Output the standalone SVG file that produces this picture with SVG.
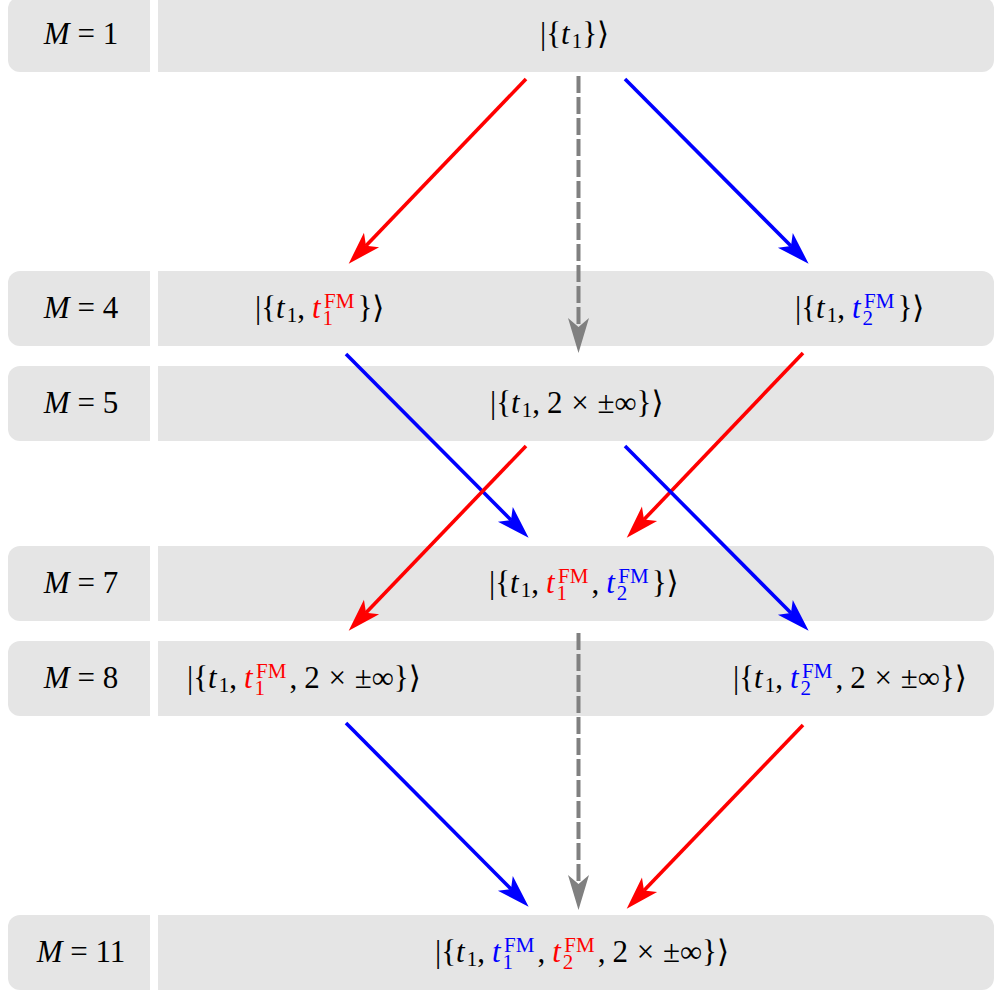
<svg xmlns="http://www.w3.org/2000/svg" width="994" height="993" viewBox="0 0 994 993">
<style>
.bx{fill:#e5e5e5}
.tx{font-family:"Liberation Serif","DejaVu Serif",serif;font-size:31px;fill:#000}
.it{font-style:italic}
.sc{font-size:21px}
.r{fill:#ff0000}
.b{fill:#0000ff}
.ar{fill:none;stroke-width:3.6}
.red{stroke:#ff0000}
.blue{stroke:#0000ff}
.gray{stroke:#808080;stroke-width:4;stroke-dasharray:17 4}
</style>
<defs>
<marker id="mr" markerUnits="userSpaceOnUse" orient="auto" refX="0" refY="0" markerWidth="60" markerHeight="60" overflow="visible"><path d="M25,0 L-8,-10.5 L0,0 L-8,10.5 Z" fill="#ff0000"/></marker>
<marker id="mb" markerUnits="userSpaceOnUse" orient="auto" refX="0" refY="0" markerWidth="60" markerHeight="60" overflow="visible"><path d="M25,0 L-8,-10.5 L0,0 L-8,10.5 Z" fill="#0000ff"/></marker>
<marker id="mg" markerUnits="userSpaceOnUse" orient="auto" refX="0" refY="0" markerWidth="60" markerHeight="60" overflow="visible"><path d="M26,0 L-9,-10.5 L0,0 L-9,10.5 Z" fill="#808080"/></marker>
</defs>

<g id="row-m1">
<path class="bx" d="M20,-3 H150 V72 H20 A12,12 0 0 1 8,60 V9 A12,12 0 0 1 20,-3 Z"/>
<path class="bx" d="M158,-3 H982 A12,12 0 0 1 994,9 V60 A12,12 0 0 1 982,72 H158 Z"/>
<text class="tx" x="81" y="44" text-anchor="middle"><tspan class="it">M</tspan> = 1</text>
</g>
<g id="state-t1">
<text class="tx" x="540" y="44">|{<tspan class="it">t</tspan><tspan class="sc" dx="2" dy="4">1</tspan><tspan dy="-4">}⟩</tspan></text>
</g>

<g id="row-m4">
<path class="bx" d="M20,271 H150 V346 H20 A12,12 0 0 1 8,334 V283 A12,12 0 0 1 20,271 Z"/>
<path class="bx" d="M158,271 H982 A12,12 0 0 1 994,283 V334 A12,12 0 0 1 982,346 H158 Z"/>
<text class="tx" x="81" y="318" text-anchor="middle"><tspan class="it">M</tspan> = 4</text>
</g>
<g id="state-t1-t1fm">
<text class="tx" x="255" y="318">|{<tspan class="it">t</tspan><tspan class="sc" dx="2" dy="4">1</tspan><tspan dy="-4">,</tspan><tspan class="it r" dx="7">t</tspan><tspan class="sc r" dx="2" dy="7">1</tspan><tspan class="sc r" dx="-9" dy="-17">FM</tspan><tspan dx="3" dy="10">}⟩</tspan></text>
</g>
<g id="state-t1-t2fm">
<text class="tx" x="795" y="318">|{<tspan class="it">t</tspan><tspan class="sc" dx="2" dy="4">1</tspan><tspan dy="-4">,</tspan><tspan class="it b" dx="7">t</tspan><tspan class="sc b" dx="2" dy="7">2</tspan><tspan class="sc b" dx="-9" dy="-17">FM</tspan><tspan dx="3" dy="10">}⟩</tspan></text>
</g>

<g id="row-m5">
<path class="bx" d="M20,366 H150 V441 H20 A12,12 0 0 1 8,429 V378 A12,12 0 0 1 20,366 Z"/>
<path class="bx" d="M158,366 H982 A12,12 0 0 1 994,378 V429 A12,12 0 0 1 982,441 H158 Z"/>
<text class="tx" x="81" y="413" text-anchor="middle"><tspan class="it">M</tspan> = 5</text>
</g>
<g id="state-t1-inf">
<text class="tx" x="490" y="413">|{<tspan class="it">t</tspan><tspan class="sc" dx="2" dy="4">1</tspan><tspan dy="-4">,</tspan><tspan dx="7">2</tspan><tspan dx="1"> × </tspan><tspan dx="1">±∞}⟩</tspan></text>
</g>

<g id="row-m7">
<path class="bx" d="M20,546 H150 V621 H20 A12,12 0 0 1 8,609 V558 A12,12 0 0 1 20,546 Z"/>
<path class="bx" d="M158,546 H982 A12,12 0 0 1 994,558 V609 A12,12 0 0 1 982,621 H158 Z"/>
<text class="tx" x="81" y="593" text-anchor="middle"><tspan class="it">M</tspan> = 7</text>
</g>
<g id="state-t1-t1fm-t2fm">
<text class="tx" x="489" y="593">|{<tspan class="it">t</tspan><tspan class="sc" dx="2" dy="4">1</tspan><tspan dy="-4">,</tspan><tspan class="it r" dx="7">t</tspan><tspan class="sc r" dx="2" dy="7">1</tspan><tspan class="sc r" dx="-9" dy="-17">FM</tspan><tspan dx="3" dy="10">,</tspan><tspan class="it b" dx="7">t</tspan><tspan class="sc b" dx="2" dy="7">2</tspan><tspan class="sc b" dx="-9" dy="-17">FM</tspan><tspan dx="3" dy="10">}⟩</tspan></text>
</g>

<g id="row-m8">
<path class="bx" d="M20,641 H150 V716 H20 A12,12 0 0 1 8,704 V653 A12,12 0 0 1 20,641 Z"/>
<path class="bx" d="M158,641 H982 A12,12 0 0 1 994,653 V704 A12,12 0 0 1 982,716 H158 Z"/>
<text class="tx" x="81" y="688" text-anchor="middle"><tspan class="it">M</tspan> = 8</text>
</g>
<g id="state-t1-t1fm-inf">
<text class="tx" x="187" y="688">|{<tspan class="it">t</tspan><tspan class="sc" dx="2" dy="4">1</tspan><tspan dy="-4">,</tspan><tspan class="it r" dx="7">t</tspan><tspan class="sc r" dx="2" dy="7">1</tspan><tspan class="sc r" dx="-9" dy="-17">FM</tspan><tspan dx="3" dy="10">,</tspan><tspan dx="7">2</tspan><tspan dx="1"> × </tspan><tspan dx="1">±∞}⟩</tspan></text>
</g>
<g id="state-t1-t2fm-inf">
<text class="tx" x="733" y="688">|{<tspan class="it">t</tspan><tspan class="sc" dx="2" dy="4">1</tspan><tspan dy="-4">,</tspan><tspan class="it b" dx="7">t</tspan><tspan class="sc b" dx="2" dy="7">2</tspan><tspan class="sc b" dx="-9" dy="-17">FM</tspan><tspan dx="3" dy="10">,</tspan><tspan dx="7">2</tspan><tspan dx="1"> × </tspan><tspan dx="1">±∞}⟩</tspan></text>
</g>

<g id="row-m11">
<path class="bx" d="M20,915 H150 V990 H20 A12,12 0 0 1 8,978 V927 A12,12 0 0 1 20,915 Z"/>
<path class="bx" d="M158,915 H982 A12,12 0 0 1 994,927 V978 A12,12 0 0 1 982,990 H158 Z"/>
<text class="tx" x="81" y="962" text-anchor="middle"><tspan class="it">M</tspan> = 11</text>
</g>
<g id="state-all">
<text class="tx" x="435" y="962">|{<tspan class="it">t</tspan><tspan class="sc" dx="2" dy="4">1</tspan><tspan dy="-4">,</tspan><tspan class="it b" dx="7">t</tspan><tspan class="sc b" dx="2" dy="7">1</tspan><tspan class="sc b" dx="-9" dy="-17">FM</tspan><tspan dx="3" dy="10">,</tspan><tspan class="it r" dx="7">t</tspan><tspan class="sc r" dx="2" dy="7">2</tspan><tspan class="sc r" dx="-9" dy="-17">FM</tspan><tspan dx="3" dy="10">,</tspan><tspan dx="7">2</tspan><tspan dx="1"> × </tspan><tspan dx="1">±∞}⟩</tspan></text>
</g>

<g id="connectors">
<line class="ar red" x1="526" y1="79" x2="366" y2="245.7" marker-end="url(#mr)"/>
<line class="ar gray" x1="578.5" y1="76" x2="578.5" y2="327" marker-end="url(#mg)"/>
<line class="ar blue" x1="625" y1="79" x2="791" y2="246" marker-end="url(#mb)"/>
<line class="ar blue" x1="346" y1="354" x2="511" y2="520" marker-end="url(#mb)"/>
<line class="ar red" x1="803" y1="353" x2="644" y2="519.6" marker-end="url(#mr)"/>
<line class="ar red" x1="526" y1="446" x2="366" y2="612.7" marker-end="url(#mr)"/>
<line class="ar blue" x1="625" y1="446" x2="791" y2="613" marker-end="url(#mb)"/>
<line class="ar gray" x1="578.5" y1="633" x2="578.5" y2="884" marker-end="url(#mg)"/>
<line class="ar blue" x1="346" y1="723" x2="511" y2="889" marker-end="url(#mb)"/>
<line class="ar red" x1="803" y1="725" x2="644" y2="890.6" marker-end="url(#mr)"/>
</g>
</svg>
